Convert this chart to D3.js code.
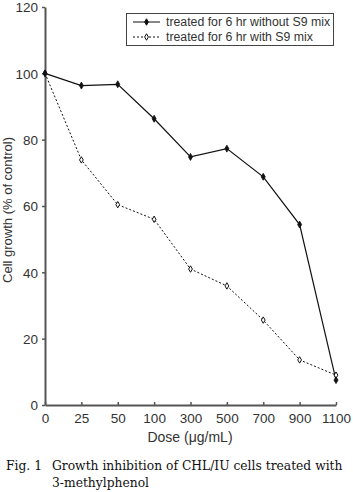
<!DOCTYPE html>
<html>
<head>
<meta charset="utf-8">
<script src="https://cdn.jsdelivr.net/npm/d3@7"></script>
<style>
body { margin: 0; background: #fff; }
svg { display: block; }
</style>
</head>
<body>
<div id="chart"></div>
<script>
// dose categories and cell growth (% of control)
const doses = ["0", "25", "50", "100", "300", "500", "700", "900", "1100"]
const withoutS9 = [100, 96.3, 96.7, 86.3, 74.8, 77.3, 68.8, 54.4, 7.5]
const withS9 = [100, 73.9, 60.4, 56, 41, 35.9, 25.6, 13.6, 9]
const yTicks = [0, 20, 40, 60, 80, 100, 120]

const width = 353, height = 492
const svg = d3.select("#chart").append("svg")
    .attr("width", width).attr("height", height)

const x = d3.scalePoint().domain(doses).range([45, 336])
const y = d3.scaleLinear().domain([0, 120]).range([405, 7])

const axisColor = "#555"
const textColor = "#333"
const sans = "'Liberation Sans', Arial, sans-serif"

// axes
const yAxis = svg.append("g").attr("transform", "translate(45,0)")
    .call(d3.axisLeft(y).tickValues(yTicks).tickSize(3).tickSizeOuter(0))
const xAxis = svg.append("g").attr("transform", "translate(0,405)")
    .call(d3.axisBottom(x).tickSize(-3).tickSizeOuter(0).tickPadding(8))

;[yAxis, xAxis].forEach(g => {
    g.select(".domain").attr("stroke", axisColor).attr("stroke-width", 2)
    g.selectAll(".tick line").attr("stroke", axisColor).attr("stroke-width", 1.5)
    g.selectAll("text").attr("fill", textColor)
        .style("font-family", sans)
        .style("font-size", "13.5px")
})
yAxis.selectAll("text").attr("dx", "-1").attr("dy", "0.35em")

// axis titles
svg.append("text")
    .attr("x", 190).attr("y", 442)
    .attr("text-anchor", "middle")
    .attr("fill", textColor)
    .style("font-family", sans)
    .style("font-size", "14px")
    .text("Dose (μg/mL)")

svg.append("text")
    .attr("transform", "translate(12,210) rotate(-90)")
    .attr("text-anchor", "middle")
    .attr("fill", textColor)
    .style("font-family", sans)
    .style("font-size", "13px")
    .text("Cell growth (% of control)")

// lines
const line = d3.line().x((d, i) => x(doses[i])).y(d => y(d))

svg.append("path").datum(withS9)
    .attr("d", line).attr("fill", "none")
    .attr("stroke", "#111").attr("stroke-width", 1)
    .attr("stroke-dasharray", "2,2")

svg.append("path").datum(withoutS9)
    .attr("d", line).attr("fill", "none")
    .attr("stroke", "#111").attr("stroke-width", 1.2)

const diamond = d3.symbol().type(d3.symbolDiamond)

svg.selectAll(".m2").data(withS9).join("path")
    .attr("class", "m2")
    .attr("d", diamond.size(12))
    .attr("transform", (d, i) => `translate(${x(doses[i])},${y(d)})`)
    .attr("fill", "#fff").attr("stroke", "#111").attr("stroke-width", 1)

svg.selectAll(".m1").data(withoutS9).join("path")
    .attr("class", "m1")
    .attr("d", diamond.size(14))
    .attr("transform", (d, i) => `translate(${x(doses[i])},${y(d)})`)
    .attr("fill", "#111").attr("stroke", "#111").attr("stroke-width", 0.8)

// legend
const legend = svg.append("g")
legend.append("rect")
    .attr("x", 126.5).attr("y", 13.5).attr("width", 207).attr("height", 32)
    .attr("fill", "#fff").attr("stroke", "#444").attr("stroke-width", 1)

const legendItems = [
    {label: "treated for 6 hr without S9 mix", dash: null, fill: "#111"},
    {label: "treated for 6 hr with S9 mix", dash: "2,2", fill: "#fff"}
]
legendItems.forEach((d, i) => {
    const ly = 22 + i * 15
    legend.append("line")
        .attr("x1", 133).attr("x2", 160).attr("y1", ly).attr("y2", ly)
        .attr("stroke", "#111").attr("stroke-width", 1)
        .attr("stroke-dasharray", d.dash)
    legend.append("path")
        .attr("d", diamond.size(12))
        .attr("transform", `translate(146.5,${ly})`)
        .attr("fill", d.fill).attr("stroke", "#111").attr("stroke-width", 1)
    legend.append("text")
        .attr("x", 166).attr("y", ly).attr("dy", "0.35em")
        .attr("fill", textColor)
        .style("font-family", sans)
        .style("font-size", "12.3px")
        .text(d.label)
})

// caption
const cap = svg.append("text")
    .attr("fill", "#111")
    .style("font-family", "'DejaVu Serif', serif")
    .style("font-size", "12.3px")
cap.append("tspan").attr("x", 6).attr("y", 470).text("Fig. 1")
cap.append("tspan").attr("x", 52).attr("y", 470).text("Growth inhibition of CHL/IU cells treated with")
cap.append("tspan").attr("x", 52).attr("y", 487).text("3-methylphenol")
</script>
</body>
</html>
